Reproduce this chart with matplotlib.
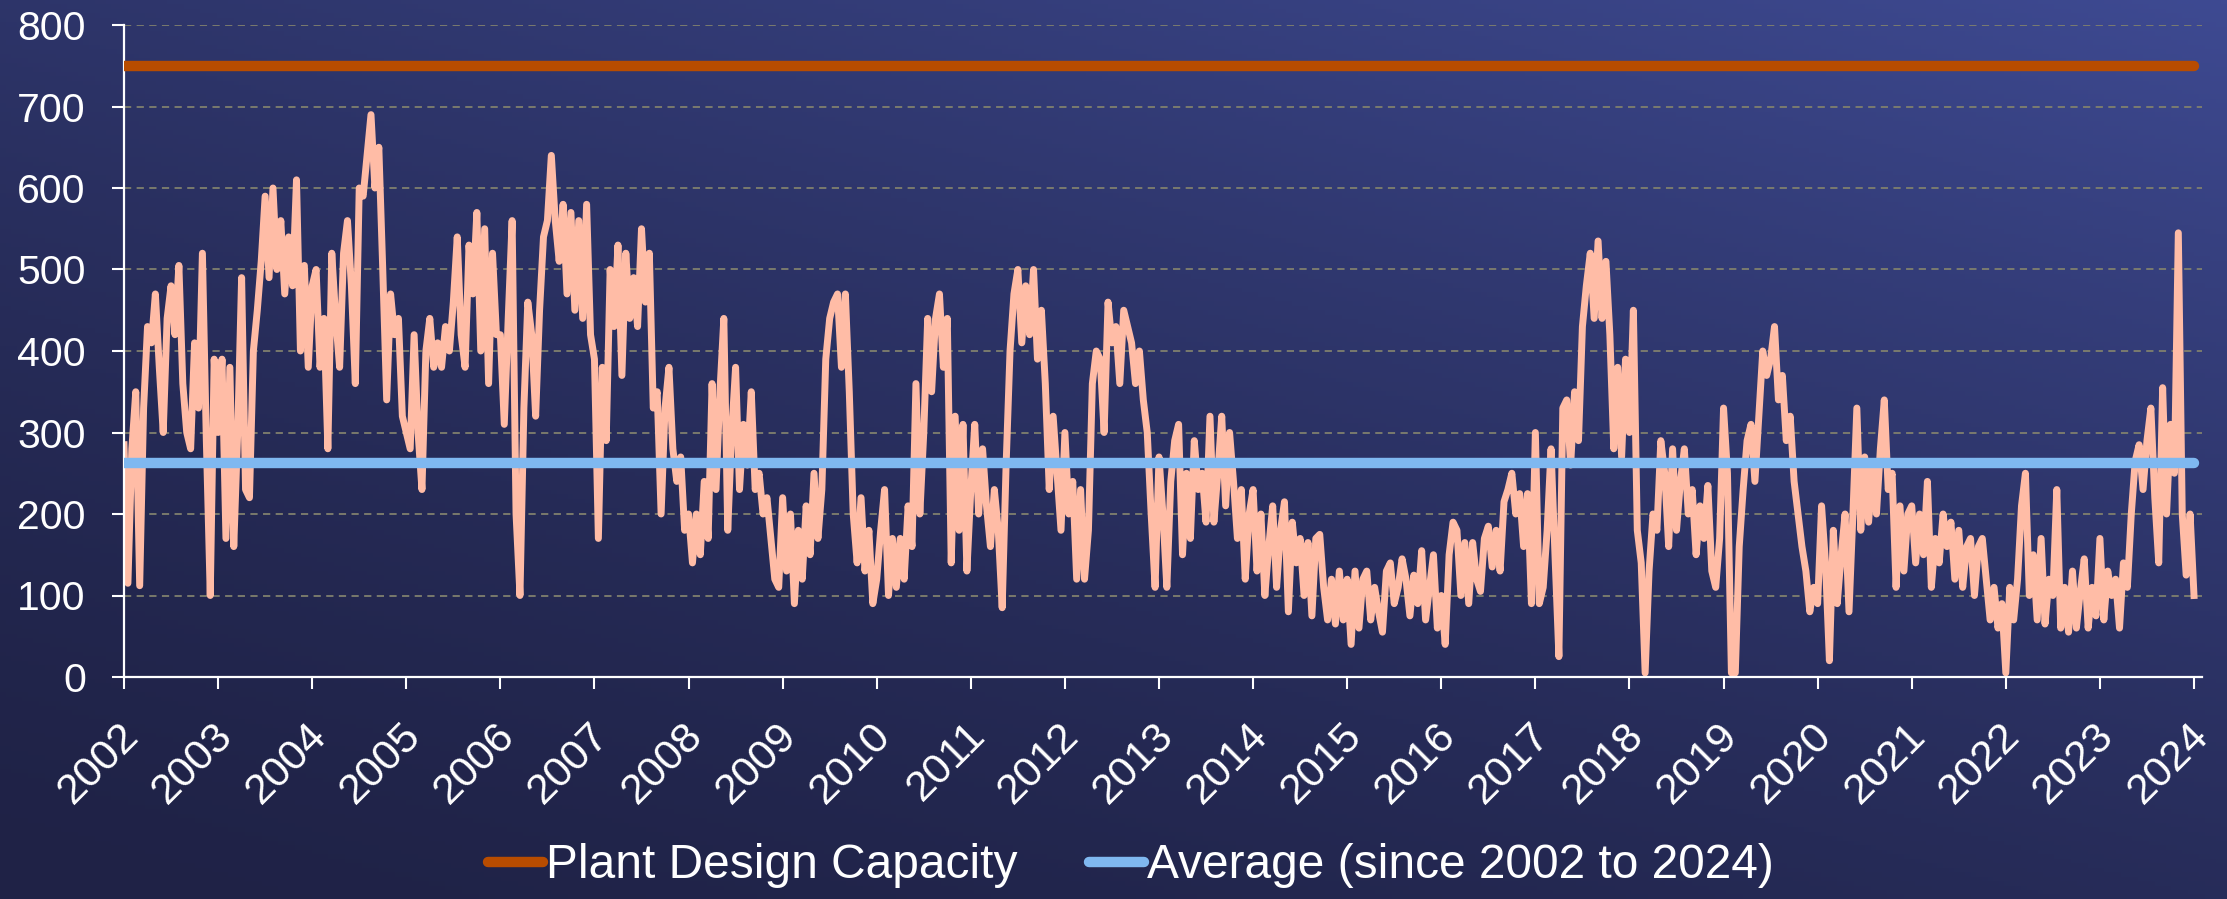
import numpy as np
import matplotlib
matplotlib.use('Agg')
import matplotlib.pyplot as plt
from matplotlib.lines import Line2D
from matplotlib import font_manager
from matplotlib.transforms import ScaledTranslation

# values, two readings per month
v2002 = [285, 115, 280, 350, 112, 330, 430, 410, 470, 380, 300, 440, 480, 420, 505, 360, 300, 280, 410, 330, 520, 290, 100, 390]
v2003 = [300, 390, 170, 380, 160, 300, 490, 230, 220, 400, 450, 510, 590, 490, 600, 500, 560, 470, 540, 480, 610, 400, 505, 380]
v2004 = [480, 500, 380, 440, 280, 520, 440, 380, 520, 560, 480, 360, 600, 590, 640, 690, 600, 650, 500, 340, 470, 420, 440, 320]
v2005 = [300, 280, 420, 300, 230, 400, 440, 380, 410, 380, 430, 400, 460, 540, 420, 380, 530, 470, 570, 400, 550, 360, 520, 420]
v2006 = [420, 310, 440, 560, 200, 100, 330, 460, 420, 320, 450, 540, 560, 640, 560, 510, 580, 470, 570, 450, 560, 440, 580, 420]
v2007 = [390, 170, 380, 290, 500, 430, 530, 370, 520, 440, 490, 430, 550, 460, 520, 330, 350, 200, 330, 380, 280, 240, 270, 180]
v2008 = [200, 140, 200, 150, 240, 170, 360, 230, 350, 440, 180, 300, 380, 230, 310, 260, 350, 230, 250, 200, 220, 170, 120, 110]
v2009 = [220, 130, 200, 90, 180, 120, 210, 150, 250, 170, 230, 390, 440, 460, 470, 380, 470, 350, 200, 140, 220, 130, 180, 90]
v2010 = [120, 180, 230, 100, 170, 110, 170, 120, 210, 160, 360, 200, 300, 440, 350, 440, 470, 380, 440, 140, 320, 180, 310, 130]
v2011 = [230, 310, 200, 280, 210, 160, 230, 180, 85, 260, 400, 470, 500, 410, 480, 420, 500, 390, 450, 360, 230, 320, 250, 180]
v2012 = [300, 200, 240, 120, 230, 120, 180, 360, 400, 390, 300, 460, 410, 430, 360, 450, 430, 410, 360, 400, 340, 300, 200, 110]
v2013 = [270, 200, 110, 240, 290, 310, 150, 250, 170, 290, 230, 250, 190, 320, 190, 250, 320, 210, 300, 240, 170, 230, 120, 200]
v2014 = [230, 130, 200, 100, 160, 210, 110, 180, 215, 80, 190, 140, 170, 100, 165, 75, 170, 175, 110, 70, 120, 65, 130, 70]
v2015 = [120, 40, 130, 60, 120, 130, 70, 110, 80, 55, 130, 140, 90, 110, 145, 120, 75, 125, 90, 155, 70, 110, 150, 60]
v2016 = [100, 40, 150, 190, 180, 100, 165, 90, 165, 120, 105, 170, 185, 135, 180, 130, 215, 230, 250, 200, 225, 160, 225, 90]
v2017 = [300, 90, 110, 180, 280, 150, 25, 330, 340, 260, 350, 290, 430, 480, 520, 440, 535, 440, 510, 420, 280, 380, 270, 390]
v2018 = [300, 450, 180, 140, 5, 130, 200, 180, 290, 250, 160, 280, 180, 240, 280, 200, 230, 150, 210, 170, 235, 130, 110, 170]
v2019 = [330, 250, 5, 5, 160, 230, 290, 310, 240, 320, 400, 370, 390, 430, 340, 370, 290, 320, 240, 200, 160, 130, 80, 110]
v2020 = [90, 210, 140, 20, 180, 90, 150, 200, 80, 200, 330, 180, 270, 190, 260, 200, 280, 340, 230, 250, 110, 210, 130, 200]
v2021 = [210, 140, 200, 150, 240, 110, 170, 140, 200, 160, 190, 120, 180, 110, 160, 170, 100, 160, 170, 120, 70, 110, 60, 90]
v2022 = [5, 110, 70, 120, 210, 250, 100, 150, 70, 170, 65, 120, 100, 230, 60, 110, 55, 130, 60, 105, 145, 60, 110, 75]
v2023 = [170, 70, 130, 100, 120, 60, 140, 110, 200, 265, 285, 230, 290, 330, 220, 140, 355, 200, 310, 250, 545, 200, 125, 200]
v2024 = [100]

design_capacity = 750
average_level = 263
year_ticks = list(range(2002, 2025))

yearly = [v2002, v2003, v2004, v2005, v2006, v2007, v2008, v2009, v2010, v2011, v2012,
          v2013, v2014, v2015, v2016, v2017, v2018, v2019, v2020, v2021, v2022, v2023]
dates = []
values = []
for k, vals in enumerate(yearly):
    yr = 2002 + k
    dates.extend(yr + np.arange(len(vals)) / len(vals))
    values.extend(vals)
dates.append(2024.0)
values.extend(v2024)

plt.rcParams['font.family'] = ['Liberation Sans', 'DejaVu Sans']

W, H = 2227, 899
fig = plt.figure(figsize=(W / 100, H / 100), dpi=100)

# diagonal gradient background, dark bottom-left to blue top-right
gx, gy = np.meshgrid(np.linspace(0, 1, 400), np.linspace(1, 0, 200))
t = (0.4 * gx + 0.6 * gy) ** 1.5
c_bl = np.array([31, 34, 70]) / 255
c_tr = np.array([62, 74, 146]) / 255
grad = c_bl + (c_tr - c_bl) * t[..., None]
bg = fig.add_axes([0, 0, 1, 1], zorder=-1)
bg.imshow(grad, aspect='auto', extent=[0, 1, 0, 1], origin='upper')
bg.axis('off')

ax = fig.add_axes([124 / W, (H - 677) / H, (2202 - 124) / W, (677 - 25) / H])
ax.set_facecolor('none')

ax.plot(dates, values, color='#ffbca6', lw=5, zorder=2)
ax.plot([2002, 2024], [design_capacity] * 2, color='#b84c00', lw=7.5,
        solid_capstyle='round', zorder=3)
ax.plot([2002, 2024], [average_level] * 2, color='#7fb8f0', lw=7.5,
        solid_capstyle='round', zorder=3)

ax.set_xlim(2002, 2024.085)
ax.set_ylim(0, 800)
ax.set_yticks(range(0, 801, 100))
ax.set_xticks(year_ticks)
ax.set_xticklabels([str(y) for y in year_ticks])

ax.grid(axis='y', color='#80806e', lw=1.3, ls=(0, (4, 3)), zorder=1)
ax.set_axisbelow(True)

for s in ['top', 'right']:
    ax.spines[s].set_visible(False)
for s in ['left', 'bottom']:
    ax.spines[s].set_color('white')
    ax.spines[s].set_linewidth(1.6)

ax.tick_params(axis='both', colors='white', length=8.5, width=1.5, labelsize=29.5)
ax.tick_params(axis='y', pad=19)
ax.tick_params(axis='x', pad=19, labelsize=31)

offset = ScaledTranslation(-6 / 100, 0, fig.dpi_scale_trans)
for lbl in ax.get_xticklabels():
    lbl.set_rotation(45)
    lbl.set_ha('right')
    lbl.set_va('top')
    lbl.set_rotation_mode('anchor')
    lbl.set_transform(lbl.get_transform() + offset)

names = {f.name for f in font_manager.fontManager.ttflist}
if 'Liberation Sans Narrow' in names:
    leg_prop = font_manager.FontProperties(family='Liberation Sans Narrow', size=42)
else:
    leg_prop = font_manager.FontProperties(family='Liberation Sans', size=34.5)

handles = [Line2D([], [], color='#b84c00', lw=7.5, solid_capstyle='round'),
           Line2D([], [], color='#7fb8f0', lw=7.5, solid_capstyle='round')]
leg = fig.legend(handles, ['Plant Design Capacity', 'Average (since 2002 to 2024)'],
                 loc='center', bbox_to_anchor=(1131 / W, 1 - 866 / H), ncol=2,
                 frameon=False, prop=leg_prop, handlelength=1.15, handletextpad=0.05,
                 columnspacing=1.5, borderpad=0)
for txt in leg.get_texts():
    txt.set_color('white')

fig.savefig('out.png', dpi=100)
